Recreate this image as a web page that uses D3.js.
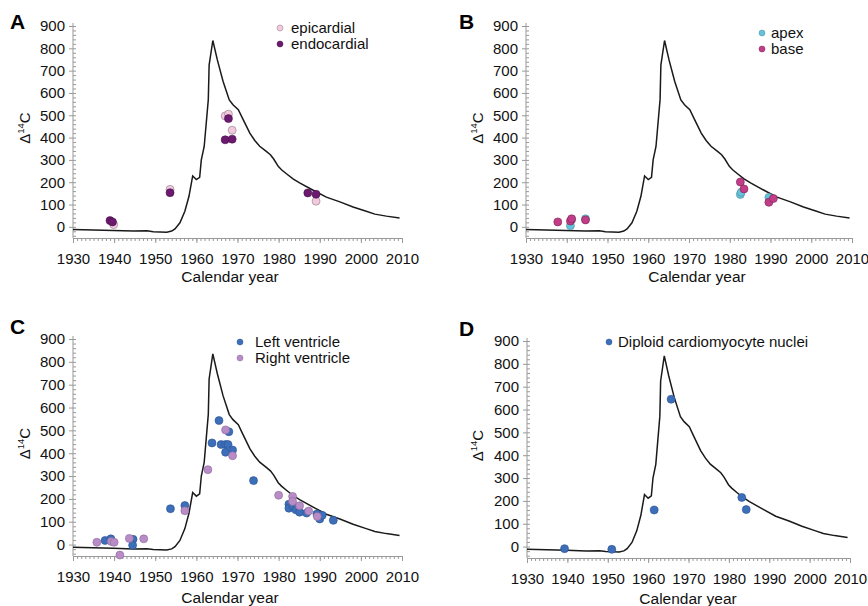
<!DOCTYPE html>
<html>
<head>
<meta charset="utf-8">
<script src="https://cdn.jsdelivr.net/npm/d3@7"></script>
<style>
  body { margin: 0; background: #fff; }
  svg { font-family: "Liberation Sans", Arial, sans-serif; }
</style>
</head>
<body>
<div id="chart"></div>
<script>
// Curva atmosférica de Δ14C (la misma en los cuatro paneles)
const curveYears = [1930, 1939.8, 1944.7, 1948, 1949.5, 1952.8, 1954, 1954.8, 1956, 1957.2, 1958.2, 1959.1, 1960, 1960.8, 1961.2, 1961.9, 1962.9, 1963.1, 1964, 1965.1, 1966.5, 1968, 1968.9, 1970.2, 1971.2, 1973, 1974.2, 1975.4, 1977, 1978, 1978.8, 1979.9, 1980.7, 1981.9, 1983.5, 1985.1, 1988.4, 1991.6, 1994.9, 1998.1, 2001.3, 2003.4, 2006.2, 2009.4];
const curveValues = [-12, -16, -19, -18, -22, -24, -19, -9, 18, 70, 137, 228, 212, 222, 300, 360, 570, 725, 835, 748, 651, 569, 547, 525, 487, 420, 387, 361, 338, 323, 304, 271, 256, 238, 215, 197, 164, 133, 112, 89, 70, 57, 48, 40];

const xTicks = [1930, 1940, 1950, 1960, 1970, 1980, 1990, 2000, 2010];
const yTicks = [0, 100, 200, 300, 400, 500, 600, 700, 800, 900];

// Panel A
const epicardial = [[1939.9, 10], [1953.6, 168], [1967, 497], [1967.8, 505], [1968.7, 433], [1989.1, 115]];
const endocardial = [[1939, 28], [1939.6, 22], [1953.6, 153], [1967.8, 485], [1967, 390], [1968.7, 393], [1987.1, 152], [1989.1, 146]];
// Panel B
const apex = [[1940.9, 5], [1941.2, 32], [1944.6, 36], [1982.6, 145], [1982.8, 155], [1989.6, 132]];
const base = [[1937.8, 22], [1940.9, 26], [1941.2, 36], [1944.6, 31], [1982.6, 201], [1983.5, 170], [1989.6, 110], [1990.7, 127]];
// Panel C
const leftVentricle = [[1937.8, 18], [1939.2, 25], [1944.6, 23], [1944.5, -3], [1953.7, 157], [1957.2, 171], [1963.8, 445], [1965.5, 543], [1966, 438], [1967.1, 438], [1967.7, 438], [1967.1, 404], [1967.9, 494], [1968.8, 414], [1973.9, 280], [1982.5, 177], [1982.5, 159], [1983.5, 168], [1984.2, 152], [1985.1, 142], [1986.8, 138], [1989.3, 134], [1990, 112], [1990.6, 128], [1993.3, 106]];
const rightVentricle = [[1935.8, 10], [1939.3, 14], [1940, 10], [1941.4, -46], [1943.7, 27], [1947.2, 25], [1957.2, 148], [1962.8, 328], [1967.1, 502], [1968.8, 389], [1980, 216], [1983.4, 211], [1983.4, 189], [1985.1, 170], [1987.3, 147], [1989.4, 123]];
// Panel D
const diploid = [[1939.3, -9], [1951, -12], [1961.5, 160], [1965.7, 645], [1983.2, 215], [1984.3, 162]];

const curve = curveYears.map((yr, i) => [yr, curveValues[i]]);
const FONT = "Liberation Sans, Arial, sans-serif";

const svg = d3.select("#chart").append("svg").attr("width", 868).attr("height", 606);

const panels = [
  { letter: "A", lx: 10, ly: 29, x0: 73, x1: 402, yTop: 26, yBot: 238, labX: 230, labY: 282, tlx: 25,
    series: [{ data: epicardial, fill: "#f3c9de", stroke: "#8a7a85", name: "epicardial" },
             { data: endocardial, fill: "#6b1a6d", stroke: "#4b0f4f", name: "endocardial" }],
    legend: { x: 280, y: 28, tx: 291 } },
  { letter: "B", lx: 459, ly: 29, x0: 526, x1: 852, yTop: 26, yBot: 238, labX: 697, labY: 282, tlx: 478,
    series: [{ data: apex, fill: "#62c3dc", stroke: "#5a8a98", name: "apex" },
             { data: base, fill: "#c23d88", stroke: "#7a2256", name: "base" }],
    legend: { x: 762, y: 33, tx: 771 } },
  { letter: "C", lx: 10, ly: 334, x0: 73, x1: 402, yTop: 339, yBot: 556, labX: 230, labY: 603, tlx: 25,
    series: [{ data: leftVentricle, fill: "#3c6eb9", stroke: "#2b5290", name: "Left ventricle" },
             { data: rightVentricle, fill: "#b98cc8", stroke: "#8a6a98", name: "Right ventricle" }],
    legend: { x: 240, y: 342, tx: 255 } },
  { letter: "D", lx: 459, ly: 336, x0: 527, x1: 850, yTop: 341, yBot: 558, labX: 688, labY: 604, tlx: 478,
    series: [{ data: diploid, fill: "#3c6eb9", stroke: "#2b5290", name: "Diploid cardiomyocyte nuclei" }],
    legend: { x: 609, y: 342, tx: 618 } }
];

panels.forEach(p => {
  const x = d3.scaleLinear().domain([1930, 2010]).range([p.x0, p.x1]);
  const y = d3.scaleLinear().domain([-50, 900]).range([p.yBot, p.yTop]);
  const g = svg.append("g");

  // Ejes menores
  g.append("g").attr("transform", `translate(0,${p.yBot})`)
    .call(d3.axisBottom(x).tickValues(d3.range(1930, 2011, 1)).tickSize(3).tickFormat(""))
    .call(a => a.selectAll("line,path").attr("stroke", "#999"));
  g.append("g").attr("transform", `translate(${p.x0},0)`)
    .call(d3.axisRight(y).tickValues(d3.range(-40, 901, 20)).tickSize(3).tickFormat(""))
    .call(a => a.select("path").remove())
    .call(a => a.selectAll("line").attr("stroke", "#999"));

  // Ejes principales
  g.append("g").attr("transform", `translate(0,${p.yBot})`)
    .call(d3.axisBottom(x).tickValues(xTicks).tickSize(5).tickPadding(10).tickFormat(d3.format("d")))
    .call(a => a.selectAll("line,path").attr("stroke", "#999"))
    .call(a => a.selectAll("text").attr("fill", "#111").attr("font-size", 15).style("font-family", FONT));
  g.append("g").attr("transform", `translate(${p.x0},0)`)
    .call(d3.axisLeft(y).tickValues(yTicks).tickSize(4).tickPadding(4))
    .call(a => a.select("path").attr("stroke", "#999").attr("d", `M0,${p.yBot}V${p.yTop - 3}`))
    .call(a => a.selectAll("line").attr("stroke", "#999"))
    .call(a => a.selectAll("text").attr("fill", "#111").attr("font-size", 15).style("font-family", FONT));

  // Títulos de ejes
  g.append("text").attr("x", p.labX).attr("y", p.labY).attr("text-anchor", "middle")
    .attr("font-size", 15.5).attr("fill", "#111").text("Calendar year");
  const cy = (p.yTop + p.yBot) / 2 - 4;
  const tl = g.append("text").attr("transform", `translate(${p.tlx + 5},${cy}) rotate(-90)`)
    .attr("text-anchor", "middle").attr("font-size", 15).attr("fill", "#111");
  tl.append("tspan").text("Δ");
  tl.append("tspan").attr("font-size", 9.5).attr("dy", -6).text("14");
  tl.append("tspan").attr("dy", 6).text("C");

  // Letra del panel
  g.append("text").attr("x", p.lx).attr("y", p.ly).attr("font-size", 21).attr("font-weight", "bold")
    .attr("fill", "#000").text(p.letter);

  // Curva
  g.append("path").datum(curve)
    .attr("d", d3.line().x(d => x(d[0])).y(d => y(d[1])))
    .attr("fill", "none").attr("stroke", "#1a1a1a").attr("stroke-width", 1.5);

  // Puntos
  p.series.forEach(s => {
    g.append("g").selectAll("circle").data(s.data).join("circle")
      .attr("cx", d => x(d[0])).attr("cy", d => y(d[1])).attr("r", 4)
      .attr("fill", s.fill).attr("stroke", s.stroke).attr("stroke-width", 0.6);
  });

  // Leyenda
  p.series.forEach((s, i) => {
    const ly = p.legend.y + i * 16;
    g.append("circle").attr("cx", p.legend.x).attr("cy", ly).attr("r", 3)
      .attr("fill", s.fill).attr("stroke", s.stroke).attr("stroke-width", 0.5);
    g.append("text").attr("x", p.legend.tx).attr("y", ly + 5).attr("font-size", 15)
      .attr("fill", "#111").text(s.name);
  });
});
</script>
</body>
</html>
